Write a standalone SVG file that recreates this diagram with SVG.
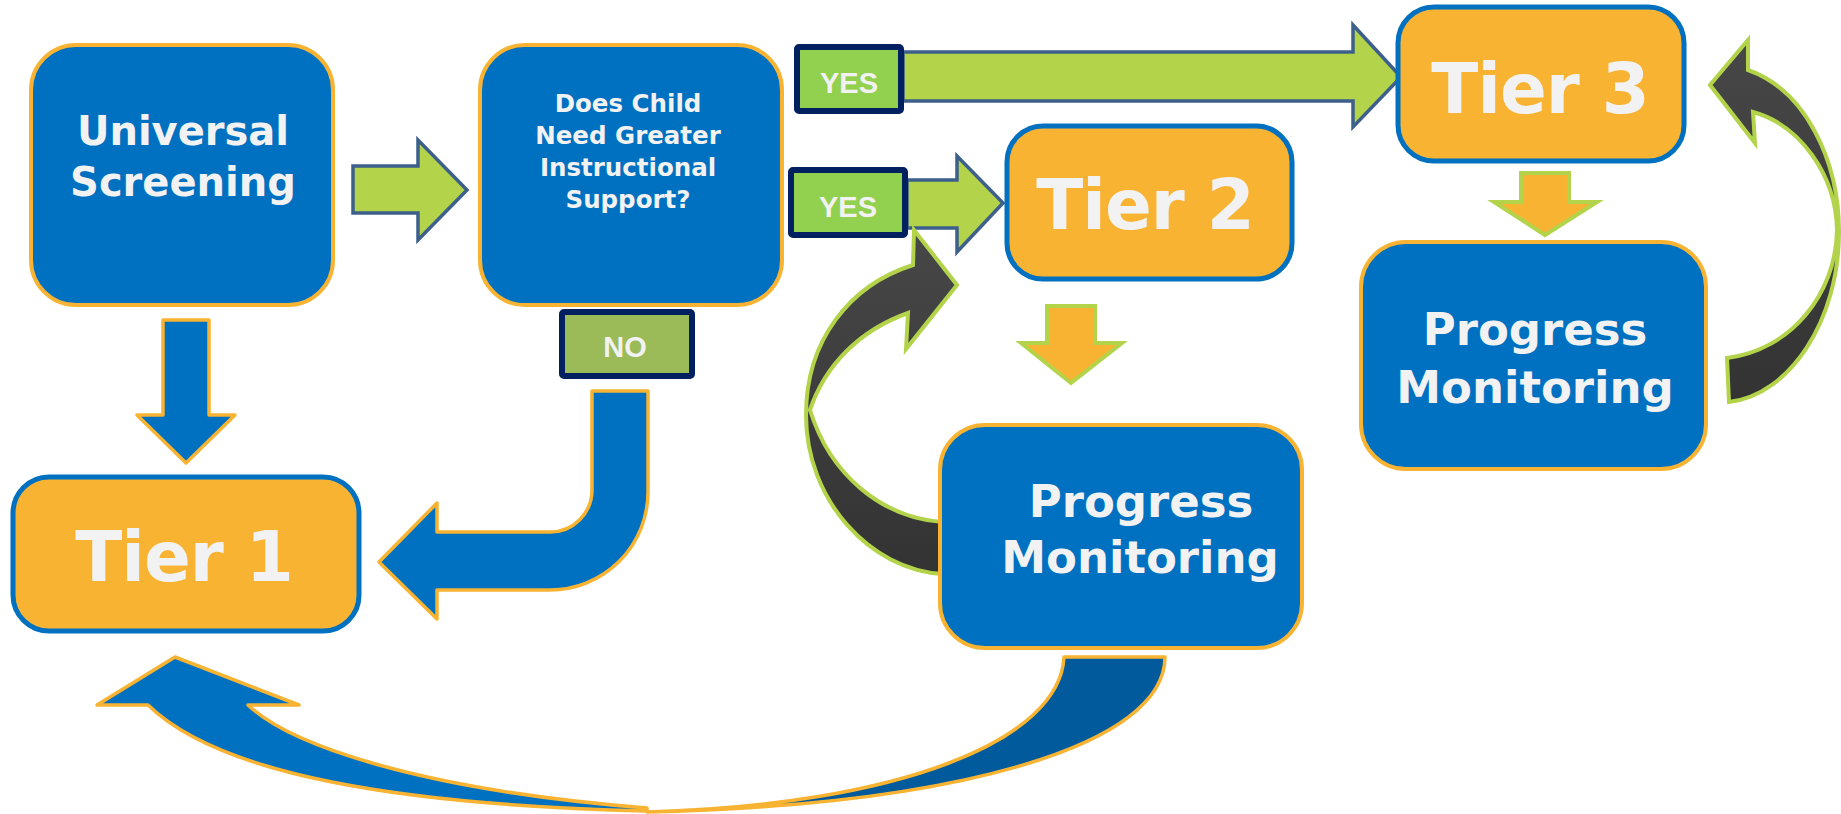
<svg xmlns="http://www.w3.org/2000/svg" width="1841" height="814" viewBox="0 0 1841 814">
<defs>
<linearGradient id="dark" x1="0" y1="0" x2="0" y2="1">
<stop offset="0" stop-color="#474747"/>
<stop offset="1" stop-color="#333333"/>
</linearGradient>
<style>
.bluebox{fill:#0070C0;stroke:#F8B332;stroke-width:4}
.tierbox{fill:#F8B332;stroke:#0070C0;stroke-width:5}
.lbl{font-family:"DejaVu Sans","Liberation Sans",sans-serif;font-weight:bold;fill:#F2F2F2;text-anchor:middle}
.tier{font-size:69px;letter-spacing:-1px}
.yn{font-family:"Liberation Sans",Arial,sans-serif;font-weight:bold;fill:#F2F2F2;text-anchor:middle;font-size:29px}
.yes{fill:#92D050;stroke:#002060;stroke-width:6}
.no{fill:#9BBB59;stroke:#002060;stroke-width:6}
.garrow{fill:#B3D44A;stroke:#3D5F8C;stroke-width:3.5;stroke-linejoin:miter}
.barrow{fill:#0070C0;stroke:#F8B332;stroke-width:3.5;stroke-linejoin:round}
.darrow{fill:#005A9C;stroke:#F8B332;stroke-width:3.5;stroke-linejoin:round}
.oarrow{fill:#F8B332;stroke:#B3D44A;stroke-width:4}
.loop{fill:url(#dark);stroke:#B3D44A;stroke-width:4;stroke-linejoin:miter}
</style>
</defs>

<g id="connectors">
  <path class="garrow" d="M353,166 L418,166 L418,140 L467,190 L418,240 L418,213 L353,213 Z"/>
  <path class="barrow" d="M163,320 L209,320 L209,415 L235,415 L186,463 L137,415 L163,415 Z"/>
  <path class="garrow" d="M903,52 L1353,52 L1353,25 L1401,77 L1353,127 L1353,101 L903,101 Z"/>
  <path class="garrow" d="M907,180 L957,180 L957,156 L1003,203 L957,252 L957,228 L907,228 Z"/>
  <path class="barrow" d="M592,391 L648,391 L648,492 A98,98 0 0 1 550,590 L437,590 L437,619 L379,562 L437,503 L437,532 L550,532 A42,42 0 0 0 592,490 Z"/>
  <path class="oarrow" d="M1047,306 L1095,306 L1095,343 L1122,343 L1071,383 L1021,343 L1047,343 Z"/>
  <path class="oarrow" d="M1521,173 L1569,173 L1569,202 L1597,202 L1545,235 L1494,202 L1521,202 Z"/>
  <path class="loop" d="M943,522 C882,518 830,475 810,410 C825,365 860,330 908,313 L906,349 L957,285 L914,230 L913,265 C850,285 806,340 806,415 C806,500 870,570 943,574 Z"/>
  <path class="loop" d="M1727,358 C1790,350 1836,295 1837,230 C1836,175 1800,125 1753,112 L1755,143 L1710,85 L1748,40 L1748,70 C1805,90 1839,160 1839,232 C1839,320 1790,395 1729,402 Z"/>
  <path class="darrow" d="M1064,657 L1165,657 C1165,745 960,805 647,812 C900,805 1060,740 1064,657 Z"/>
  <path class="barrow" d="M647,811 C400,805 220,775 148,705 L97,705 L175,657 L299,705 L248,705 C290,745 420,790 647,808 Z"/>
</g>

<g id="universal-screening">
  <rect class="bluebox" x="31" y="45" width="302" height="260" rx="45"/>
  <text class="lbl" x="183" y="145" font-size="40">Universal</text>
  <text class="lbl" x="183" y="196" font-size="40">Screening</text>
</g>

<g id="does-child">
  <rect class="bluebox" x="480" y="45" width="302" height="260" rx="45"/>
  <text class="lbl" x="628" y="112" font-size="24.5">Does Child</text>
  <text class="lbl" x="628" y="144" font-size="24.5">Need Greater</text>
  <text class="lbl" x="628" y="176" font-size="24.5">Instructional</text>
  <text class="lbl" x="628" y="208" font-size="24.5">Support?</text>
</g>

<g id="yes-top">
  <rect class="yes" x="797" y="47" width="104" height="64" rx="2"/>
  <text class="yn" x="849" y="93">YES</text>
</g>

<g id="yes-mid">
  <rect class="yes" x="791" y="170" width="114" height="65" rx="2"/>
  <text class="yn" x="848" y="217">YES</text>
</g>

<g id="no">
  <rect class="no" x="562" y="312" width="130" height="64" rx="2"/>
  <text class="yn" x="625" y="357" font-size="31">NO</text>
</g>

<g id="tier1">
  <rect class="tierbox" x="13" y="477" width="346" height="154" rx="36"/>
  <text class="lbl tier" x="184" y="581">Tier 1</text>
</g>

<g id="tier2">
  <rect class="tierbox" x="1007" y="126" width="285" height="153" rx="36"/>
  <text class="lbl tier" x="1145" y="229">Tier 2</text>
</g>

<g id="tier3">
  <rect class="tierbox" x="1398" y="7" width="286" height="154" rx="36"/>
  <text class="lbl tier" x="1540" y="113">Tier 3</text>
</g>

<g id="progress-mid">
  <rect class="bluebox" x="940" y="425" width="362" height="223" rx="45"/>
  <text class="lbl" x="1141" y="517" font-size="45">Progress</text>
  <text class="lbl" x="1140" y="573" font-size="45">Monitoring</text>
</g>

<g id="progress-right">
  <rect class="bluebox" x="1361" y="242" width="345" height="227" rx="45"/>
  <text class="lbl" x="1535" y="345" font-size="45">Progress</text>
  <text class="lbl" x="1535" y="403" font-size="45">Monitoring</text>
</g>
</svg>
